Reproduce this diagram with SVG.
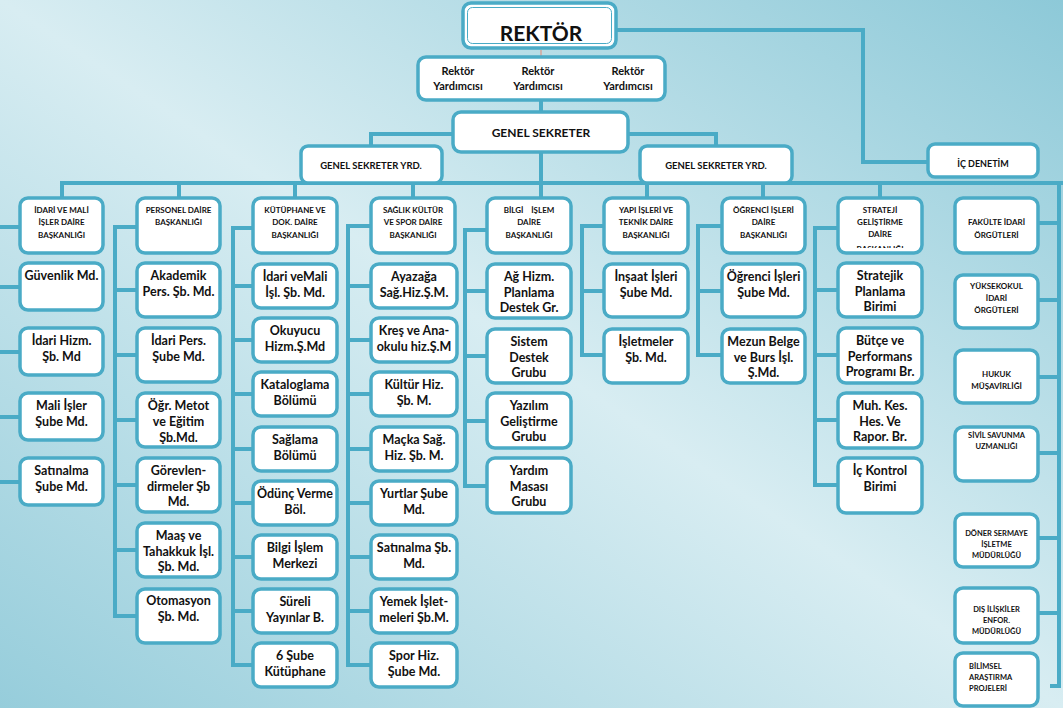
<svg xmlns="http://www.w3.org/2000/svg" width="1063" height="708" viewBox="0 0 1063 708">
<defs>
<linearGradient id="bg" x1="1" y1="0" x2="0" y2="1">
<stop offset="0" stop-color="#8dc9d8"/>
<stop offset="0.5" stop-color="#d8edf2"/>
<stop offset="1" stop-color="#96cddb"/>
</linearGradient>
<clipPath id="clipStr"><rect x="838" y="198" width="84" height="50"/></clipPath>
<style>
.box{fill:#fff;stroke:#4aabc6;stroke-width:3.5}
.ln{fill:none;stroke:#4aabc6;stroke-width:4}
.t{font-family:Lato,'Liberation Sans',sans-serif;font-weight:bold;text-anchor:middle;fill:#111}
.s{font-size:12.5px}
.h{font-size:8px}
.r{font-size:8px}
</style>
</defs>
<rect x="0" y="0" width="1063" height="708" fill="url(#bg)"/>

<g id="connectors">
<polyline class="ln" points="616,30 863,30 863,162 928,162"/>
<line x1="541" y1="50" x2="541" y2="57" stroke="#d4a59a" stroke-width="1.5"/>
<line class="ln" x1="541" y1="100" x2="541" y2="112"/>
<polyline class="ln" points="453,134 371,134 371,146"/>
<polyline class="ln" points="628,134 716,134 716,146"/>
<line class="ln" x1="541" y1="152" x2="541" y2="198"/>
<line class="ln" x1="60" y1="183" x2="1063" y2="183"/>
<line class="ln" x1="62" y1="183" x2="62" y2="198"/>
<line class="ln" x1="179" y1="183" x2="179" y2="198"/>
<line class="ln" x1="295" y1="183" x2="295" y2="198"/>
<line class="ln" x1="413" y1="183" x2="413" y2="198"/>
<line class="ln" x1="647" y1="183" x2="647" y2="198"/>
<line class="ln" x1="763" y1="183" x2="763" y2="198"/>
<line class="ln" x1="880" y1="183" x2="880" y2="198"/>
<line class="ln" x1="1059" y1="183" x2="1059" y2="688"/>
<line class="ln" x1="1038" y1="223" x2="1059" y2="223"/>
<line class="ln" x1="1038" y1="300" x2="1059" y2="300"/>
<line class="ln" x1="1038" y1="377" x2="1059" y2="377"/>
<line class="ln" x1="1038" y1="453" x2="1059" y2="453"/>
<line class="ln" x1="1038" y1="538" x2="1059" y2="538"/>
<line class="ln" x1="1038" y1="613" x2="1059" y2="613"/>
<line class="ln" x1="1050" y1="686" x2="1059" y2="686"/>
<line class="ln" x1="-3" y1="225" x2="-3" y2="484"/>
<line class="ln" x1="-5" y1="227" x2="20" y2="227"/>
<line class="ln" x1="-5" y1="287" x2="20" y2="287"/>
<line class="ln" x1="-5" y1="352" x2="20" y2="352"/>
<line class="ln" x1="-5" y1="417" x2="20" y2="417"/>
<line class="ln" x1="-5" y1="482" x2="20" y2="482"/>
<polyline class="ln" points="137,227 115,227 115,616 137,616"/>
<line class="ln" x1="115" y1="290" x2="137" y2="290"/>
<line class="ln" x1="115" y1="355" x2="137" y2="355"/>
<line class="ln" x1="115" y1="420" x2="137" y2="420"/>
<line class="ln" x1="115" y1="485" x2="137" y2="485"/>
<line class="ln" x1="115" y1="550" x2="137" y2="550"/>
<polyline class="ln" points="253,228 233,228 233,665 253,665"/>
<line class="ln" x1="233" y1="286" x2="253" y2="286"/>
<line class="ln" x1="233" y1="340" x2="253" y2="340"/>
<line class="ln" x1="233" y1="394" x2="253" y2="394"/>
<line class="ln" x1="233" y1="449" x2="253" y2="449"/>
<line class="ln" x1="233" y1="503" x2="253" y2="503"/>
<line class="ln" x1="233" y1="557" x2="253" y2="557"/>
<line class="ln" x1="233" y1="611" x2="253" y2="611"/>
<polyline class="ln" points="371,226 348,226 348,665 371,665"/>
<line class="ln" x1="348" y1="286" x2="371" y2="286"/>
<line class="ln" x1="348" y1="340" x2="371" y2="340"/>
<line class="ln" x1="348" y1="394" x2="371" y2="394"/>
<line class="ln" x1="348" y1="449" x2="371" y2="449"/>
<line class="ln" x1="348" y1="503" x2="371" y2="503"/>
<line class="ln" x1="348" y1="557" x2="371" y2="557"/>
<line class="ln" x1="348" y1="611" x2="371" y2="611"/>
<polyline class="ln" points="487,230 465,230 465,486 487,486"/>
<line class="ln" x1="465" y1="291" x2="487" y2="291"/>
<line class="ln" x1="465" y1="356" x2="487" y2="356"/>
<line class="ln" x1="465" y1="421" x2="487" y2="421"/>
<polyline class="ln" points="604,226 582,226 582,355 604,355"/>
<line class="ln" x1="582" y1="291" x2="604" y2="291"/>
<polyline class="ln" points="722,226 698,226 698,355 722,355"/>
<line class="ln" x1="698" y1="291" x2="722" y2="291"/>
<polyline class="ln" points="838,228 815,228 815,485 838,485"/>
<line class="ln" x1="815" y1="290" x2="838" y2="290"/>
<line class="ln" x1="815" y1="355" x2="838" y2="355"/>
<line class="ln" x1="815" y1="420" x2="838" y2="420"/>
</g>

<g id="rektor">
<rect class="box" x="463" y="3" width="153" height="45" rx="8" stroke-width="4.5"/>
<rect x="467.5" y="7.5" width="144" height="36" rx="5" fill="none" stroke="#4aabc6" stroke-width="1"/>
<text class="t" x="541" y="41" font-size="21">REKTÖR</text>
</g>
<g id="rektor-yrd">
<rect class="box" x="418" y="57" width="247" height="43" rx="8"/>
<text class="t" x="458" y="75" font-size="11">Rektör</text>
<text class="t" x="458" y="90" font-size="11">Yardımcısı</text>
<text class="t" x="538" y="75" font-size="11">Rektör</text>
<text class="t" x="538" y="90" font-size="11">Yardımcısı</text>
<text class="t" x="628" y="75" font-size="11">Rektör</text>
<text class="t" x="628" y="90" font-size="11">Yardımcısı</text>
</g>
<g id="ic-denetim">
<rect class="box" x="928" y="144" width="110" height="33" rx="7"/>
<text class="t" x="983" y="167" font-size="9">İÇ DENETİM</text>
</g>
<g id="genel-sekreter">
<rect class="box" x="453" y="112" width="175" height="40" rx="8"/>
<text class="t" x="541" y="137" font-size="12">GENEL SEKRETER</text>
</g>
<g id="gs-yrd-1">
<rect class="box" x="301" y="146" width="141" height="37" rx="7"/>
<text class="t" x="371" y="169" font-size="9.5">GENEL SEKRETER YRD.</text>
</g>
<g id="gs-yrd-2">
<rect class="box" x="640" y="146" width="152" height="37" rx="7"/>
<text class="t" x="716" y="169" font-size="9.5">GENEL SEKRETER YRD.</text>
</g>

<g id="idari-mali">
<rect class="box" x="20" y="198" width="83" height="55" rx="8"/>
<text class="t h" x="61.5" y="213">İDARİ VE MALİ</text>
<text class="t h" x="61.5" y="225">İŞLER DAİRE</text>
<text class="t h" x="61.5" y="238">BAŞKANLIĞI</text>
</g>
<g id="guvenlik"><rect class="box" x="20" y="263" width="83" height="47" rx="8"/>
<text class="t s" x="61.5" y="280">Güvenlik Md.</text></g>
<g id="idari-hizm"><rect class="box" x="20" y="328" width="83" height="47" rx="8"/>
<text class="t s" x="61.5" y="345">İdari Hizm.</text><text class="t s" x="61.5" y="361">Şb. Md</text></g>
<g id="mali-isler"><rect class="box" x="20" y="393" width="83" height="47" rx="8"/>
<text class="t s" x="61.5" y="410">Mali İşler</text><text class="t s" x="61.5" y="426">Şube Md.</text></g>
<g id="satinalma1"><rect class="box" x="20" y="458" width="83" height="47" rx="8"/>
<text class="t s" x="61.5" y="475">Satınalma</text><text class="t s" x="61.5" y="491">Şube Md.</text></g>

<g id="personel">
<rect class="box" x="137" y="198" width="83" height="55" rx="8"/>
<text class="t h" x="178.5" y="213">PERSONEL DAİRE</text>
<text class="t h" x="178.5" y="225">BAŞKANLIĞI</text>
</g>
<g id="akademik"><rect class="box" x="137" y="263" width="83" height="54" rx="8"/>
<text class="t s" x="178.5" y="280">Akademik</text><text class="t s" x="178.5" y="296">Pers. Şb. Md.</text></g>
<g id="idari-pers"><rect class="box" x="137" y="328" width="83" height="54" rx="8"/>
<text class="t s" x="178.5" y="345">İdari Pers.</text><text class="t s" x="178.5" y="361">Şube Md.</text></g>
<g id="ogr-metot"><rect class="box" x="137" y="393" width="83" height="54" rx="8"/>
<text class="t s" x="178.5" y="410">Öğr. Metot</text><text class="t s" x="178.5" y="426">ve Eğitim</text><text class="t s" x="178.5" y="442">Şb.Md.</text></g>
<g id="gorevlendirmeler"><rect class="box" x="137" y="458" width="83" height="54" rx="8"/>
<text class="t s" x="178.5" y="475">Görevlen-</text><text class="t s" x="178.5" y="491">dirmeler Şb</text><text class="t s" x="178.5" y="506">Md.</text></g>
<g id="maas"><rect class="box" x="137" y="523" width="83" height="54" rx="8"/>
<text class="t s" x="178.5" y="540">Maaş ve</text><text class="t s" x="178.5" y="556">Tahakkuk İşl.</text><text class="t s" x="178.5" y="571">Şb. Md.</text></g>
<g id="otomasyon"><rect class="box" x="137" y="589" width="83" height="54" rx="8"/>
<text class="t s" x="178.5" y="605">Otomasyon</text><text class="t s" x="178.5" y="621">Şb. Md.</text></g>

<g id="kutuphane">
<rect class="box" x="253" y="198" width="84" height="55" rx="8"/>
<text class="t h" x="295" y="213">KÜTÜPHANE VE</text>
<text class="t h" x="295" y="225">DOK. DAİRE</text>
<text class="t h" x="295" y="238">BAŞKANLIĞI</text>
</g>
<g id="k1"><rect class="box" x="253" y="264" width="84" height="44" rx="8"/>
<text class="t s" x="295" y="281">İdari veMali</text><text class="t s" x="295" y="297">İşl. Şb. Md.</text></g>
<g id="k2"><rect class="box" x="253" y="318" width="84" height="44" rx="8"/>
<text class="t s" x="295" y="335">Okuyucu</text><text class="t s" x="295" y="351">Hizm.Ş.Md</text></g>
<g id="k3"><rect class="box" x="253" y="372" width="84" height="44" rx="8"/>
<text class="t s" x="295" y="389">Kataloglama</text><text class="t s" x="295" y="405">Bölümü</text></g>
<g id="k4"><rect class="box" x="253" y="427" width="84" height="44" rx="8"/>
<text class="t s" x="295" y="444">Sağlama</text><text class="t s" x="295" y="460">Bölümü</text></g>
<g id="k5"><rect class="box" x="253" y="481" width="84" height="44" rx="8"/>
<text class="t s" x="295" y="498">Ödünç Verme</text><text class="t s" x="295" y="514">Böl.</text></g>
<g id="k6"><rect class="box" x="253" y="535" width="84" height="44" rx="8"/>
<text class="t s" x="295" y="552">Bilgi İşlem</text><text class="t s" x="295" y="568">Merkezi</text></g>
<g id="k7"><rect class="box" x="253" y="589" width="84" height="44" rx="8"/>
<text class="t s" x="295" y="606">Süreli</text><text class="t s" x="295" y="622">Yayınlar B.</text></g>
<g id="k8"><rect class="box" x="253" y="643" width="84" height="44" rx="8"/>
<text class="t s" x="295" y="660">6 Şube</text><text class="t s" x="295" y="676">Kütüphane</text></g>

<g id="saglik">
<rect class="box" x="371" y="198" width="84" height="55" rx="8"/>
<text class="t h" x="413" y="213">SAĞLIK KÜLTÜR</text>
<text class="t h" x="413" y="225">VE SPOR DAİRE</text>
<text class="t h" x="413" y="238">BAŞKANLIĞI</text>
</g>
<g id="s1"><rect class="box" x="371" y="264" width="86" height="44" rx="8"/>
<text class="t s" x="414" y="281">Ayazağa</text><text class="t s" x="414" y="297">Sağ.Hiz.Ş.M.</text></g>
<g id="s2"><rect class="box" x="371" y="318" width="86" height="44" rx="8"/>
<text class="t s" x="414" y="335">Kreş ve Ana-</text><text class="t s" x="414" y="351">okulu hiz.Ş.M</text></g>
<g id="s3"><rect class="box" x="371" y="372" width="86" height="44" rx="8"/>
<text class="t s" x="414" y="389">Kültür Hiz.</text><text class="t s" x="414" y="405">Şb. M.</text></g>
<g id="s4"><rect class="box" x="371" y="427" width="86" height="44" rx="8"/>
<text class="t s" x="414" y="444">Maçka Sağ.</text><text class="t s" x="414" y="460">Hiz. Şb. M.</text></g>
<g id="s5"><rect class="box" x="371" y="481" width="86" height="44" rx="8"/>
<text class="t s" x="414" y="498">Yurtlar Şube</text><text class="t s" x="414" y="514">Md.</text></g>
<g id="s6"><rect class="box" x="371" y="535" width="86" height="44" rx="8"/>
<text class="t s" x="414" y="552">Satınalma Şb.</text><text class="t s" x="414" y="568">Md.</text></g>
<g id="s7"><rect class="box" x="371" y="589" width="86" height="44" rx="8"/>
<text class="t s" x="414" y="606">Yemek İşlet-</text><text class="t s" x="414" y="622">meleri Şb.M.</text></g>
<g id="s8"><rect class="box" x="371" y="643" width="86" height="44" rx="8"/>
<text class="t s" x="414" y="660">Spor Hiz.</text><text class="t s" x="414" y="676">Şube Md.</text></g>

<g id="bilgi-islem">
<rect class="box" x="487" y="198" width="84" height="55" rx="8"/>
<text class="t h" x="529" y="213" xml:space="preserve">BİLGİ    İŞLEM</text>
<text class="t h" x="529" y="225">DAİRE</text>
<text class="t h" x="529" y="238">BAŞKANLIĞI</text>
</g>
<g id="b1"><rect class="box" x="487" y="264" width="84" height="54" rx="8"/>
<text class="t s" x="529" y="281">Ağ Hizm.</text><text class="t s" x="529" y="297">Planlama</text><text class="t s" x="529" y="312">Destek Gr.</text></g>
<g id="b2"><rect class="box" x="487" y="329" width="84" height="54" rx="8"/>
<text class="t s" x="529" y="346">Sistem</text><text class="t s" x="529" y="362">Destek</text><text class="t s" x="529" y="377">Grubu</text></g>
<g id="b3"><rect class="box" x="487" y="393" width="84" height="55" rx="8"/>
<text class="t s" x="529" y="410">Yazılım</text><text class="t s" x="529" y="426">Geliştirme</text><text class="t s" x="529" y="441">Grubu</text></g>
<g id="b4"><rect class="box" x="487" y="458" width="84" height="55" rx="8"/>
<text class="t s" x="529" y="475">Yardım</text><text class="t s" x="529" y="491">Masası</text><text class="t s" x="529" y="506">Grubu</text></g>

<g id="yapi">
<rect class="box" x="604" y="198" width="84" height="55" rx="8"/>
<text class="t h" x="646" y="213">YAPI İŞLERİ VE</text>
<text class="t h" x="646" y="225">TEKNİK DAİRE</text>
<text class="t h" x="646" y="238">BAŞKANLIĞI</text>
</g>
<g id="y1"><rect class="box" x="604" y="264" width="84" height="53" rx="8"/>
<text class="t s" x="646" y="281">İnşaat İşleri</text><text class="t s" x="646" y="297">Şube Md.</text></g>
<g id="y2"><rect class="box" x="604" y="329" width="84" height="54" rx="8"/>
<text class="t s" x="646" y="346">İşletmeler</text><text class="t s" x="646" y="362">Şb. Md.</text></g>

<g id="ogrenci">
<rect class="box" x="722" y="198" width="83" height="55" rx="8"/>
<text class="t h" x="763.5" y="213">ÖĞRENCİ İŞLERİ</text>
<text class="t h" x="763.5" y="225">DAİRE</text>
<text class="t h" x="763.5" y="238">BAŞKANLIĞI</text>
</g>
<g id="o1"><rect class="box" x="722" y="264" width="83" height="53" rx="8"/>
<text class="t s" x="763.5" y="281">Öğrenci İşleri</text><text class="t s" x="763.5" y="297">Şube Md.</text></g>
<g id="o2"><rect class="box" x="722" y="329" width="83" height="54" rx="8"/>
<text class="t s" x="763.5" y="346">Mezun Belge</text><text class="t s" x="763.5" y="362">ve Burs İşl.</text><text class="t s" x="763.5" y="377">Ş.Md.</text></g>

<g id="strateji">
<rect class="box" x="838" y="198" width="84" height="55" rx="8"/>
<g clip-path="url(#clipStr)">
<text class="t h" x="880" y="213">STRATEJİ</text>
<text class="t h" x="880" y="225">GELİŞTİRME</text>
<text class="t h" x="880" y="237">DAİRE</text>
<text class="t h" x="880" y="252">BAŞKANLIĞI</text>
</g>
</g>
<g id="st1"><rect class="box" x="838" y="263" width="84" height="54" rx="8"/>
<text class="t s" x="880" y="280">Stratejik</text><text class="t s" x="880" y="296">Planlama</text><text class="t s" x="880" y="311">Birimi</text></g>
<g id="st2"><rect class="box" x="838" y="328" width="84" height="55" rx="8"/>
<text class="t s" x="880" y="345">Bütçe ve</text><text class="t s" x="880" y="361">Performans</text><text class="t s" x="880" y="376">Programı Br.</text></g>
<g id="st3"><rect class="box" x="838" y="393" width="84" height="55" rx="8"/>
<text class="t s" x="880" y="410">Muh. Kes.</text><text class="t s" x="880" y="426">Hes. Ve</text><text class="t s" x="880" y="441">Rapor. Br.</text></g>
<g id="st4"><rect class="box" x="838" y="458" width="84" height="55" rx="8"/>
<text class="t s" x="880" y="475">İç Kontrol</text><text class="t s" x="880" y="491">Birimi</text></g>

<g id="fakulte"><rect class="box" x="955" y="198" width="83" height="55" rx="8"/>
<text class="t r" x="996.5" y="225">FAKÜLTE İDARİ</text><text class="t r" x="996.5" y="238">ÖRGÜTLERİ</text></g>
<g id="yuksekokul"><rect class="box" x="955" y="275" width="83" height="53" rx="8"/>
<text class="t r" x="996.5" y="289">YÜKSEKOKUL</text><text class="t r" x="996.5" y="301">İDARİ</text><text class="t r" x="996.5" y="313">ÖRGÜTLERİ</text></g>
<g id="hukuk"><rect class="box" x="955" y="350" width="83" height="53" rx="8"/>
<text class="t r" x="996.5" y="377">HUKUK</text><text class="t r" x="996.5" y="389">MÜŞAVİRLİĞİ</text></g>
<g id="sivil"><rect class="box" x="955" y="427" width="83" height="54" rx="8"/>
<text class="t" font-size="7.5" x="996.5" y="438">SİVİL SAVUNMA</text><text class="t" font-size="7.5" x="996.5" y="449">UZMANLIĞI</text></g>
<g id="doner"><rect class="box" x="955" y="514" width="83" height="53" rx="8"/>
<text class="t" font-size="7.5" x="996.5" y="536">DÖNER SERMAYE</text><text class="t" font-size="7.5" x="996.5" y="547">İŞLETME</text><text class="t" font-size="7.5" x="996.5" y="558">MÜDÜRLÜĞÜ</text></g>
<g id="dis-iliskiler"><rect class="box" x="955" y="588" width="83" height="55" rx="8"/>
<text class="t" font-size="7.5" x="996.5" y="612">DIŞ İLİŞKİLER</text><text class="t" font-size="7.5" x="996.5" y="623">ENFOR.</text><text class="t" font-size="7.5" x="996.5" y="634">MÜDÜRLÜĞÜ</text></g>
<g id="bilimsel"><rect class="box" x="955" y="653" width="83" height="53" rx="8"/>
<text class="t" font-size="7.5" style="text-anchor:start" x="969" y="669">BİLİMSEL</text><text class="t" font-size="7.5" style="text-anchor:start" x="969" y="680">ARAŞTIRMA</text><text class="t" font-size="7.5" style="text-anchor:start" x="969" y="691">PROJELERİ</text></g>
</svg>
